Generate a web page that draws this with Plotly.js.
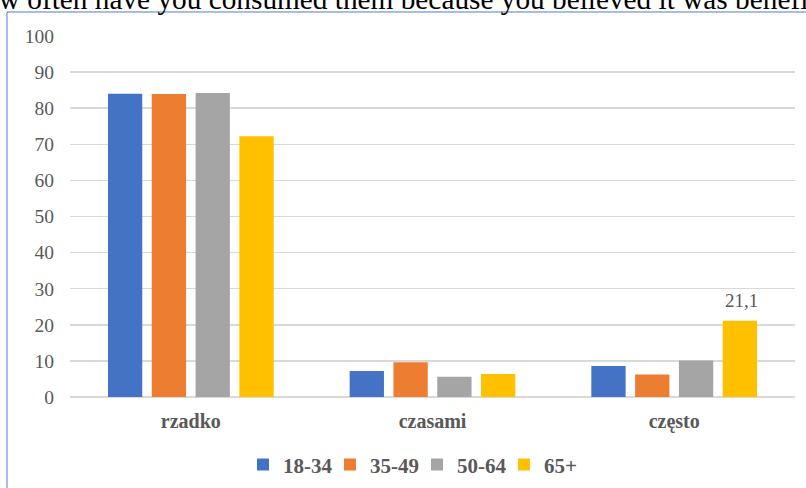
<!DOCTYPE html>
<html>
<head>
<meta charset="utf-8">
<script src="https://cdn.plot.ly/plotly-3.0.1.min.js"></script>
<style>
  html, body { margin: 0; padding: 0; background: #ffffff; }
  #chart { width: 806px; height: 488px; }
</style>
</head>
<body>
<div id="chart"></div>
<script>
// Frequency categories on the x axis
const categories = ['rzadko', 'czasami', 'często'];

// Age groups (one bar series each)
const groups = ['18-34', '35-49', '50-64', '65+'];

// Percentages per age group, in category order
const values1834 = [84.0, 7.2, 8.6];
const values3549 = [83.9, 9.6, 6.2];
const values5064 = [84.2, 5.6, 10.1];
const values65 = [72.2, 6.4, 21.1];

// Which bars carry a value label (series index, category index)
const labelled = [[3, 2]];

const yTicks = [0, 10, 20, 30, 40, 50, 60, 70, 80, 90, 100];

const chartTitle = 'How often have you consumed them because you believed it was beneficial?';

const colors = ['#4472C4', '#ED7D31', '#A5A5A5', '#FFC000'];
const series = [values1834, values3549, values5064, values65];

const serif = 'Liberation Serif';
const grey = '#595959';

const bargap = 0.275;
const bargroupgap = 0.217;
const plotLeft = 70, plotRight = 11, chartW = 806;

const traces = series.map((vals, i) => ({
  type: 'bar',
  name: groups[i],
  x: categories,
  y: vals,
  marker: { color: colors[i], line: { width: 0 } },
  hoverinfo: 'x+y+name'
}));

// Value labels placed above their bars; the horizontal shift moves the
// label from the category centre to the centre of its bar in the group.
const slotPx = (chartW - plotLeft - plotRight) / categories.length * (1 - bargap) / groups.length;
const valueLabels = labelled.map(([s, c]) => ({
  text: series[s][c].toFixed(1).replace('.', ','),
  xref: 'x', yref: 'y',
  x: categories[c],
  y: series[s][c],
  xshift: (s - (groups.length - 1) / 2) * slotPx + 2,
  yanchor: 'bottom',
  yshift: 8,
  showarrow: false,
  font: { family: serif, size: 19, color: grey }
}));

const layout = {
  width: chartW,
  height: 488,
  margin: { l: plotLeft, r: plotRight, t: 36, b: 91, pad: 0, autoexpand: false },
  paper_bgcolor: '#ffffff',
  plot_bgcolor: '#ffffff',
  barmode: 'group',
  bargap: bargap,
  bargroupgap: bargroupgap,
  font: { family: serif, color: grey },
  showlegend: true,
  legend: {
    orientation: 'h',
    x: 0.4786,
    xanchor: 'center',
    y: -0.188,
    yanchor: 'middle',
    bgcolor: 'rgba(0,0,0,0)',
    entrywidth: 42,
    entrywidthmode: 'pixels',
    font: { family: serif, size: 21, color: grey, weight: 'bold' },
    itemclick: false,
    itemdoubleclick: false
  },
  xaxis: {
    type: 'category',
    showgrid: false,
    zeroline: false,
    showline: false,
    ticks: '',
    ticklabelstandoff: 10,
    tickfont: { family: serif, size: 20, color: grey, weight: 'bold' },
    fixedrange: true
  },
  yaxis: {
    range: [0, 100],
    tickvals: yTicks,
    ticktext: yTicks.map(String),
    showgrid: true,
    gridcolor: '#d9d9d9',
    gridwidth: 1.5,
    zeroline: true,
    zerolinecolor: '#d9d9d9',
    zerolinewidth: 1.5,
    showline: false,
    ticks: '',
    ticklabelstandoff: 15,
    tickfont: { family: serif, size: 19.5, color: grey },
    fixedrange: true
  },
  shapes: [{
    type: 'rect',
    xref: 'paper', yref: 'paper',
    x0: -0.0869, x1: 1.2,
    y0: -0.4, y1: 1.0665,
    line: { color: '#4f7ec8', width: 1 },
    fillcolor: 'rgba(0,0,0,0)',
    layer: 'below'
  }],
  annotations: [{
    text: chartTitle,
    xref: 'paper', yref: 'paper',
    x: -0.15, xanchor: 'left',
    y: 1.1036, yanchor: 'middle',
    showarrow: false,
    font: { family: serif, size: 29.3, color: '#000000' }
  }].concat(valueLabels)
};

Plotly.newPlot('chart', traces, layout, { displayModeBar: false, staticPlot: true });
</script>
</body>
</html>
